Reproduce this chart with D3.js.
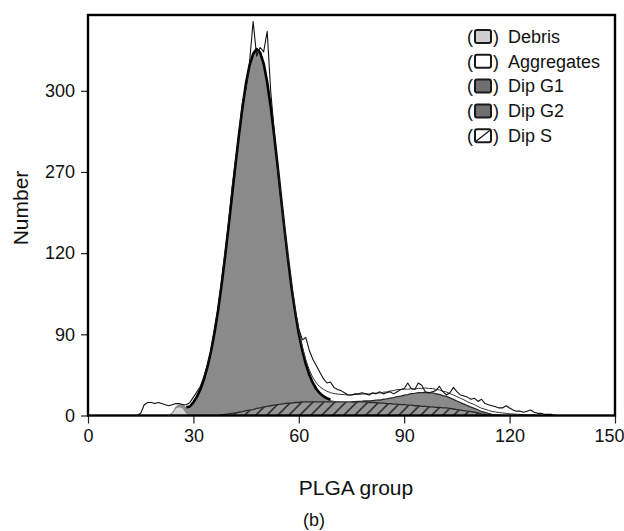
<!DOCTYPE html>
<html><head><meta charset="utf-8">
<script src="https://cdn.jsdelivr.net/npm/d3@7"></script>
<style>html,body{margin:0;padding:0;background:#fff;} svg{display:block;font-family:"Liberation Sans",Arial,Helvetica,sans-serif;}</style>
</head><body><svg id="chart" width="624" height="531"></svg>
<script>
// ---- data ----
const xTickValues = [0, 30, 60, 90, 120, 150];
const yTickValues = [0, 75, 150, 225, 300];
const yTickLabels = ["0", "90", "120", "270", "300"];
const legendLabels = ["Debris", "Aggregates", "Dip G1", "Dip G2", "Dip S"];
const legendKeys = ["debris", "aggregates", "dipG1", "dipG2", "dipS"];

const debrisStart = 24;
const debris = [2, 7, 8, 7, 2];

const dipSStart = 38;
const dipS = [0.5, 1, 1.5, 2, 2.5, 3, 3.5, 4.5, 5, 5.5,
  6.5, 7, 8, 8.5, 9, 9.5, 10, 10.5, 11, 11.5,
  11.5, 12, 12, 12.5, 12.5, 12.5, 12.5, 12.5, 12.5, 12.5,
  12.5, 12.5, 12.5, 12.5, 12.5, 12.5, 12.5, 12.5, 12.5, 12.5,
  12.5, 12.5, 12, 12, 12, 11.5, 11.5, 11, 11, 10.5,
  10.5, 10, 10, 9.5, 9.5, 9, 9, 8.5, 8.5, 8,
  8, 7.5, 7.5, 7, 7, 6.5, 6, 5.5, 5, 4.5,
  4, 3.5, 3, 2.5, 1.5, 1, 0.5, 0];

const dipG1Start = 22;
const dipG1 = [0.3, 0.5, 0.9, 1.5, 2.4, 3.7, 5.6, 8.3, 12.2, 17.4,
  24.3, 33.4, 44.9, 59.2, 76.4, 96.5, 119.7, 145.3, 172.8, 201.4,
  229.9, 257.2, 282, 302.9, 318.7, 328.6, 332, 328.2, 317.1, 299.4,
  276.3, 249.2, 219.6, 189.1, 159.2, 131, 105.3, 82.8, 63.5, 47.7,
  35, 25.1, 17.6, 12, 8, 5.3, 3.4, 2.1, 1.3, 0.8,
  0.5, 0.3, 0];

const dipG2Start = 76;
const dipG2 = [0.4, 0.6, 0.8, 1.1, 1.4, 1.8, 2.2, 2.8, 3.5, 4.3,
  5.1, 6, 6.9, 7.9, 8.9, 9.8, 10.7, 11.4, 12.1, 12.6,
  12.9, 13, 12.9, 12.6, 12.1, 11.4, 10.7, 9.8, 8.9, 7.9,
  6.9, 6, 5.1, 4.3, 3.5, 2.8, 2.2, 1.8, 1.4, 1.1,
  0.8, 0.6, 0.4, 0.2, 0];

const aggregatesStart = 55;
const aggregates = [0.5, 1, 1.5, 2, 2.5, 3, 3.5, 4, 4.5, 5,
  5.5, 6, 6.5, 6.5, 6.5, 6.5, 6.5, 6.5, 6.5, 6.5,
  6.5, 6.5, 6.5, 6.5, 6.5, 6.5, 6.5, 6.5, 6.5, 6.5,
  6.5, 6.5, 6.5, 6.5, 6, 5.5, 5, 4.5, 4, 4,
  4, 4, 4, 4, 4, 4, 4, 4, 4, 4,
  4, 4, 4, 3.5, 3.5, 3.5, 3, 3, 3, 2.8,
  2.6, 2.4, 2.2, 2, 1.8, 1.6, 1.4, 1.2, 1, 0.8,
  0.7, 0.6, 0.5, 0.4, 0.3, 0.2, 0.1, 0];

const rawStart = 12;
const rawCounts = [0, 0, 0, 2, 10, 12, 12, 11, 12, 11,
  10, 9, 10, 11, 11, 10, 10, 12, 17, 22,
  27, 36, 47, 60, 80, 99, 124, 150, 178, 210,
  236, 262, 290, 302, 327, 364, 332, 340, 336, 355,
  300, 262, 228, 198, 170, 143, 118, 96, 80, 70,
  72, 60, 52, 46, 40, 34, 30, 31, 26, 24,
  23, 21, 19, 19, 20, 20, 21, 20, 19, 21,
  20, 22, 20, 21, 22, 20, 22, 24, 25, 30,
  25, 24, 30, 28, 22, 21, 22, 23, 27, 22,
  19, 21, 26, 22, 19, 18, 17, 15, 16, 13,
  15, 11, 10, 9, 8, 7, 7, 9, 7, 5,
  4, 4, 3, 4, 5, 3, 2, 2, 1, 1,
  1, 0, 0, 0, 0, 0, 0, 0, 0];

// ---- build table ----
const series = {
  debris: [debrisStart, debris],
  dipS: [dipSStart, dipS],
  dipG1: [dipG1Start, dipG1],
  dipG2: [dipG2Start, dipG2],
  aggregates: [aggregatesStart, aggregates]
};
const channels = d3.range(rawStart, rawStart + rawCounts.length);
function valAt(key, c) {
  const [s, arr] = series[key];
  const i = c - s;
  return (i >= 0 && i < arr.length) ? arr[i] : 0;
}
function inRange(key, c) {
  const [s, arr] = series[key];
  return c >= s - 1 && c <= s + arr.length;
}
const table = channels.map((c, i) => {
  const row = { channel: c, raw: rawCounts[i] };
  Object.keys(series).forEach(k => row[k] = valAt(k, c));
  return row;
});
const stackKeys = ["debris", "dipS", "dipG1", "dipG2", "aggregates"];
const stacked = d3.stack().keys(stackKeys)(table);

// ---- layout ----
const svg = d3.select("#chart");
const L = 88, R = 615, T = 15, B = 415.5;
const x = d3.scaleLinear().domain([0, 150]).range([L, R]);
const y = d3.scaleLinear().domain([0, 370]).range([B, T]);

const defs = svg.append("defs");
defs.append("clipPath").attr("id", "clip").append("rect")
  .attr("x", L).attr("y", T).attr("width", R - L).attr("height", B - T);
const pat = defs.append("pattern").attr("id", "hatch").attr("patternUnits", "userSpaceOnUse")
  .attr("width", 11).attr("height", 11);
pat.append("rect").attr("width", 11).attr("height", 11).attr("fill", "#979797");
pat.append("path").attr("d", "M0,11 L11,0 M-3,3 L3,-3 M8,14 L14,8")
  .attr("stroke", "#333").attr("stroke-width", 1.7);

const fills = { debris: "#d6d6d6", dipS: "url(#hatch)", dipG1: "#8a8a8a", dipG2: "#8a8a8a", aggregates: "#ffffff" };
const outline = {
  debris: ["#8a8a8a", 1], dipS: ["#2a2a2a", 1.3], dipG1: ["#000", 2.6],
  dipG2: ["#2a2a2a", 1.3], aggregates: ["#333", 1]
};

const g = svg.append("g").attr("clip-path", "url(#clip)");
const area = d3.area()
  .x(d => x(d.data.channel)).y0(d => y(d[0])).y1(d => y(d[1]));

stacked.forEach(layer => {
  const key = layer.key;
  g.append("path").datum(layer.filter(d => inRange(key, d.data.channel)))
    .attr("d", area).attr("fill", fills[key]).attr("stroke", "none");
});
stacked.forEach(layer => {
  const key = layer.key;
  const line = d3.line().x(d => x(d.data.channel)).y(d => y(d[1]))
    .defined(d => inRange(key, d.data.channel) &&
      (key !== "dipG1" || (d.data.channel >= 28 && d.data.channel <= 69)));
  g.append("path").datum(layer).attr("d", line).attr("fill", "none")
    .attr("stroke", outline[key][0]).attr("stroke-width", outline[key][1])
    .attr("stroke-linejoin", "round");
});
// raw histogram outline
const rawLine = d3.line().x(d => x(d.channel)).y(d => y(d.raw));
g.append("path").datum(table).attr("d", rawLine).attr("fill", "none")
  .attr("stroke", "#111").attr("stroke-width", 1.1).attr("stroke-linejoin", "round");

// ---- axes ----
const xAxis = d3.axisBottom(x).tickValues(xTickValues).tickSize(8).tickPadding(6).tickSizeOuter(0);
const gx = svg.append("g").attr("transform", `translate(0,${B})`).call(xAxis);
gx.select(".domain").remove();
gx.selectAll("text").attr("font-size", 18).attr("font-family", "Liberation Sans, Arial, sans-serif").attr("fill", "#111");
gx.selectAll(".tick line").attr("stroke", "#222").attr("stroke-width", 1.2);
gx.selectAll(".tick text").filter(d => d === 150).attr("dx", -6);

const yAxis = d3.axisLeft(y).tickValues(yTickValues).tickFormat((d, i) => yTickLabels[i])
  .tickSize(7).tickPadding(6).tickSizeOuter(0);
const gy = svg.append("g").attr("transform", `translate(${L},0)`).call(yAxis);
gy.select(".domain").remove();
gy.selectAll("text").attr("font-size", 18).attr("font-family", "Liberation Sans, Arial, sans-serif").attr("fill", "#111");
gy.selectAll(".tick line").attr("stroke", "#222").attr("stroke-width", 1.2);

// frame
svg.append("rect").attr("x", L).attr("y", T).attr("width", R - L).attr("height", B - T)
  .attr("fill", "none").attr("stroke", "#000").attr("stroke-width", 2.4);

// titles
svg.append("text").attr("x", 356).attr("y", 495).attr("text-anchor", "middle")
  .attr("font-size", 21).attr("fill", "#111").text("PLGA group");
svg.append("text").attr("transform", "translate(28,208) rotate(-90)").attr("text-anchor", "middle")
  .attr("font-size", 21).attr("fill", "#111").text("Number");
svg.append("text").attr("x", 314).attr("y", 526).attr("text-anchor", "middle")
  .attr("font-size", 18).attr("fill", "#111").text("(b)");

// ---- legend ----
const boxFill = { debris: "#cfcfcf", aggregates: "#fff", dipG1: "#707070", dipG2: "#707070", dipS: "#fff" };
const lg = svg.append("g");
legendLabels.forEach((lab, i) => {
  const cy = 36.5 + i * 24.8;
  const k = legendKeys[i];
  lg.append("text").attr("x", 473).attr("y", cy).attr("dy", "0.35em").attr("text-anchor", "end")
    .attr("font-size", 18).attr("fill", "#111").text("(");
  lg.append("rect").attr("x", 475).attr("y", cy - 6.5).attr("width", 16).attr("height", 13).attr("rx", 2)
    .attr("fill", boxFill[k]).attr("stroke", "#1a1a1a").attr("stroke-width", 2);
  if (k === "dipS") {
    lg.append("line").attr("x1", 476).attr("y1", cy + 5.5).attr("x2", 490).attr("y2", cy - 5.5)
      .attr("stroke", "#1a1a1a").attr("stroke-width", 1.4);
  }
  lg.append("text").attr("x", 493).attr("y", cy).attr("dy", "0.35em")
    .attr("font-size", 18).attr("fill", "#111").text(")");
  lg.append("text").attr("x", 508).attr("y", cy).attr("dy", "0.35em")
    .attr("font-size", 18).attr("fill", "#111").text(lab);
});
</script></body></html>
